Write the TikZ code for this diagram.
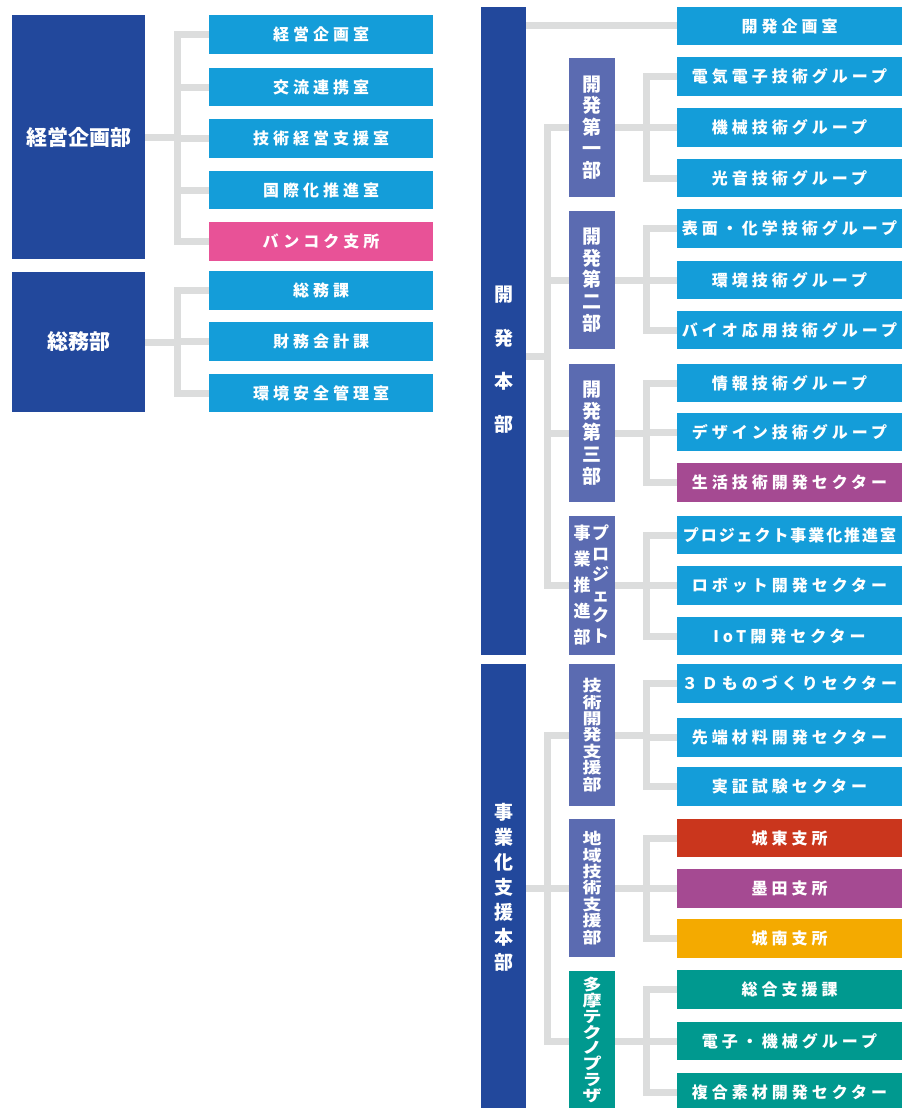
\documentclass[tikz,border=0pt]{standalone}
\usepackage{fontspec}
\usepackage{graphicx}
\setmainfont{Noto Sans CJK JP}
\definecolor{dblue}{HTML}{22489C}
\definecolor{mblue}{HTML}{5B6BB1}
\definecolor{lblue}{HTML}{149DD9}
\definecolor{cpink}{HTML}{E85297}
\definecolor{cpurple}{HTML}{A54A92}
\definecolor{cred}{HTML}{CA361D}
\definecolor{corange}{HTML}{F4AA00}
\definecolor{cteal}{HTML}{00998F}
\definecolor{lgray}{HTML}{DCDDDD}
\newcommand\grpfont{\fontsize{16}{19}\selectfont\bfseries\addfontfeature{LetterSpace=25}}
\newcommand\vsq[2]{\scalebox{1}[0.82]{\fontsize{19}{#1}\selectfont\bfseries\vbox{\lineskiplimit=-100pt\lineskip=0pt\let\\\cr\halign{\hfil##\hfil\cr#2\crcr}}}}
\tikzset{
  box/.style={inner sep=0pt, outer sep=0pt, text=white, draw=none},
  grp/.style={box, fill=lblue, minimum width=225pt, minimum height=38.5pt, font=\grpfont},
  lgrp/.style={grp, minimum width=224pt},
  dept/.style={box, fill=dblue, minimum width=133pt, font=\fontsize{21}{24}\selectfont\bfseries},
  hq/.style={box, fill=dblue, minimum width=45pt},
  sub/.style={box, fill=mblue, minimum width=46pt, align=center, font=\fontsize{19}{21.6}\selectfont\bfseries},
  vtxt/.style={inner sep=0pt, text=white, align=center},
  conn/.style={draw=lgray, line width=7pt, line join=miter}
}
\begin{document}
\begin{tikzpicture}[x=1pt,y=-1pt]
\useasboundingbox (0,0) rectangle (904,1108);
% ---------- left: departments
\node[dept, minimum height=244pt] (D1) at (78.5,137) {経営企画部};
\node[dept, minimum height=140pt] (D2) at (78.5,342) {総務部};
\node[lgrp] (k1) at (321,34.5) {経営企画室};
\node[lgrp] (k2) at (321,87) {交流連携室};
\node[lgrp] (k3) at (321,138.5) {技術経営支援室};
\node[lgrp] (k4) at (321,190) {国際化推進室};
\node[lgrp, fill=cpink] (k5) at (321,241.5) {バンコク支所};
\node[lgrp] (m1) at (321,290.5) {総務課};
\node[lgrp] (m2) at (321,341.5) {財務会計課};
\node[lgrp] (m3) at (321,393) {環境安全管理室};
\coordinate (tA) at (177.5,0);
\draw[conn] (k1.west) -- (k1.west -| tA) |- (k5.west);
\foreach \n in {k2,k3,k4} \draw[conn] (\n.west) -- (\n.west -| tA);
\draw[conn] (D1.east) -- (D1.east -| tA);
\draw[conn] (m1.west) -- (m1.west -| tA) |- (m3.west);
\draw[conn] (m2.west) -- (m2.west -| tA);
\draw[conn] (D2.east) -- (D2.east -| tA);
% ---------- right: headquarters
\node[hq, minimum height=648pt] (H1) at (503.5,331) {};
\node[vtxt, font=\fontsize{19}{43.3}\selectfont\bfseries] (H1t) at (503.5,360) {開\\発\\本\\部};
\node[hq, minimum height=444pt] (H2) at (503.5,886) {};
\node[vtxt, font=\fontsize{19}{25}\selectfont\bfseries] (H2t) at (503.5,887) {事\\業\\化\\支\\援\\本\\部};
% sub departments
\node[sub, minimum height=139pt] (s1) at (592,127.5) {開\\発\\第\\一\\部};
\node[sub, minimum height=138pt] (s2) at (592,280) {開\\発\\第\\二\\部};
\node[sub, minimum height=138pt] (s3) at (592,433) {開\\発\\第\\三\\部};
\node[sub, minimum height=139pt] (s4) at (592,585.5) {};
\node[vtxt, font=\fontsize{17}{20.6}\selectfont\bfseries] (s4r) at (600.5,584) {プ\\ロ\\ジ\\ェ\\ク\\ト};
\node[vtxt, font=\fontsize{17}{26}\selectfont\bfseries] (s4l) at (582,585) {事\\業\\推\\進\\部};
\node[sub, minimum height=142pt] (s5) at (592,735) {\vsq{20}{技\\術\\開\\発\\支\\援\\部}};
\node[sub, minimum height=138pt] (s6) at (592,888) {\vsq{20}{地\\域\\技\\術\\支\\援\\部}};
\node[sub, fill=cteal, minimum height=140pt] (s7) at (592,1041) {};
\node[vtxt] (s7t) at (592,1040) {\vsq{19.2}{多\\摩\\テ\\ク\\ノ\\プ\\ラ\\ザ}};
% groups
\node[grp] (g1) at (789.5,26) {開発企画室};
\node[grp] (g2) at (789.5,76.5) {電気電子技術グループ};
\node[grp] (g3) at (789.5,127.5) {機械技術グループ};
\node[grp] (g4) at (789.5,178) {光音技術グループ};
\node[grp] (g5) at (789.5,228.5) {表面・化学技術グループ};
\node[grp] (g6) at (789.5,280) {環境技術グループ};
\node[grp] (g7) at (789.5,330) {バイオ応用技術グループ};
\node[grp] (g8) at (789.5,383) {情報技術グループ};
\node[grp] (g9) at (789.5,432) {デザイン技術グループ};
\node[grp, fill=cpurple] (g10) at (789.5,482.5) {生活技術開発セクター};
\node[grp, font=\fontsize{16}{19}\selectfont\bfseries\addfontfeature{LetterSpace=12}] (g11) at (789.5,535) {プロジェクト事業化推進室};
\node[grp] (g12) at (789.5,585.5) {ロボット開発セクター};
\node[grp] (g13) at (789.5,636) {IoT開発セクター};
\node[grp] (g14) at (789.5,683.5) {３Ｄものづくりセクター};
\node[grp] (g15) at (789.5,737.5) {先端材料開発セクター};
\node[grp] (g16) at (789.5,786.5) {実証試験セクター};
\node[grp, fill=cred] (g17) at (789.5,838) {城東支所};
\node[grp, fill=cpurple] (g18) at (789.5,888.5) {墨田支所};
\node[grp, fill=corange] (g19) at (789.5,938.5) {城南支所};
\node[grp, fill=cteal] (g20) at (789.5,989.5) {総合支援課};
\node[grp, fill=cteal] (g21) at (789.5,1041) {電子・機械グループ};
\node[grp, fill=cteal] (g22) at (789.5,1092) {複合素材開発セクター};
% connectors
\coordinate (tB) at (547.5,0);
\coordinate (tC) at (646,0);
\coordinate (j1) at (547.5,356);
\draw[conn] (H1.east |- g1.west) -- (g1.west);
\draw[conn] (s1.west) -- (s1.west -| tB) |- (s4.west);
\draw[conn] (s2.west) -- (s2.west -| tB);
\draw[conn] (s3.west) -- (s3.west -| tB);
\draw[conn] (j1) -- (j1 -| H1.east);
\draw[conn] (s5.west) -- (s5.west -| tB) |- (s7.west);
\draw[conn] (s6.west) -- (s6.west -| tB);
\draw[conn] (H2.east |- s6.west) -- (s6.west -| tB);
\foreach \s/\a/\b/\c in {s1/g2/g3/g4, s2/g5/g6/g7, s3/g8/g9/g10, s4/g11/g12/g13, s5/g14/g15/g16, s6/g17/g18/g19, s7/g20/g21/g22} {
  \draw[conn] (\a.west) -- (\a.west -| tC) |- (\c.west);
  \draw[conn] (\b.west) -- (\b.west -| tC);
  \draw[conn] (\s.east) -- (\s.east -| tC);
}
\end{tikzpicture}
\end{document}
